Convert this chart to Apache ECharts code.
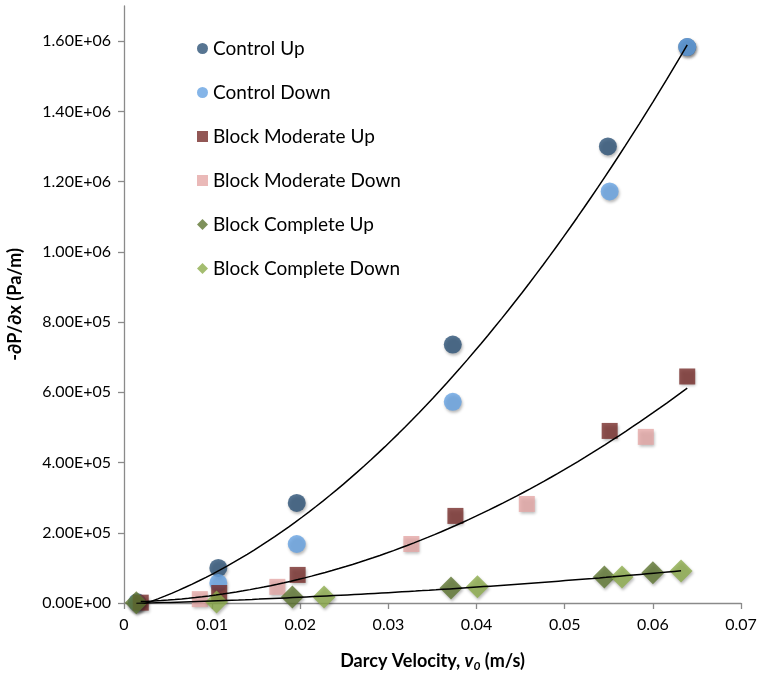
<!DOCTYPE html>
<html><head><meta charset="utf-8">
<script src="https://cdn.jsdelivr.net/npm/echarts@6/dist/echarts.min.js"></script>
<style>html,body{margin:0;padding:0;background:#fff}#c{width:759px;height:675px}</style>
</head><body><div id="c"></div>
<script>
// ---- data ----
const seriesNames = ['Control Up', 'Control Down', 'Block Moderate Up', 'Block Moderate Down', 'Block Complete Up', 'Block Complete Down'];
const controlUpX = [0.0015, 0.0107, 0.0196, 0.0373, 0.0549, 0.0639];
const controlUpY = [2000, 1.00e5, 2.85e5, 7.36e5, 1.30e6, 1.583e6];
const controlDownX = [0.0015, 0.0107, 0.0196, 0.0373, 0.0551, 0.0639];
const controlDownY = [1000, 5.7e4, 1.68e5, 5.73e5, 1.172e6, 1.583e6];
const modUpX = [0.0019, 0.0108, 0.0197, 0.0376, 0.0551, 0.0639];
const modUpY = [1000, 2.85e4, 8.0e4, 2.48e5, 4.90e5, 6.45e5];
const modDownX = [0.0086, 0.0174, 0.0326, 0.0457, 0.0592];
const modDownY = [1.1e4, 4.6e4, 1.68e5, 2.82e5, 4.73e5];
const compUpX = [0.0014, 0.0191, 0.0371, 0.0545, 0.0600];
const compUpY = [1000, 1.7e4, 4.3e4, 7.4e4, 8.6e4];
const compDownX = [0.0105, 0.0227, 0.0401, 0.0565, 0.0632];
const compDownY = [3000, 1.7e4, 4.6e4, 7.4e4, 9.1e4];
const yTickValues = [0, 2e5, 4e5, 6e5, 8e5, 1.0e6, 1.2e6, 1.4e6, 1.6e6];
const xTickValues = [0, 0.01, 0.02, 0.03, 0.04, 0.05, 0.06, 0.07];

const FONT = 'Lato, "Liberation Sans", sans-serif';
const zip = (xs, ys) => xs.map((x, i) => [x, ys[i]]);

// Excel-style polynomial (order 2) trendline: least squares fit of the combined Up+Down points
function quadFit(xs, ys) {
  let S = [0,0,0,0,0], T = [0,0,0];
  xs.forEach((x, i) => {
    const y = ys[i];
    for (let k = 0; k < 5; k++) S[k] += Math.pow(x, k);
    for (let k = 0; k < 3; k++) T[k] += y * Math.pow(x, k);
  });
  const A = [[S[0],S[1],S[2],T[0]],[S[1],S[2],S[3],T[1]],[S[2],S[3],S[4],T[2]]];
  for (let c = 0; c < 3; c++) {
    let p = c;
    for (let r = c+1; r < 3; r++) if (Math.abs(A[r][c]) > Math.abs(A[p][c])) p = r;
    [A[c], A[p]] = [A[p], A[c]];
    for (let r = 0; r < 3; r++) if (r !== c) {
      const f = A[r][c] / A[c][c];
      for (let k = c; k < 4; k++) A[r][k] -= f * A[c][k];
    }
  }
  return [A[0][3]/A[0][0], A[1][3]/A[1][1], A[2][3]/A[2][2]];
}
function trend(xs, ys) {
  const [a, b, c] = quadFit(xs, ys);
  const lo = Math.min(...xs), hi = Math.max(...xs), n = 80, pts = [];
  for (let i = 0; i <= n; i++) { const x = lo + (hi - lo) * i / n; pts.push([x, a + b*x + c*x*x]); }
  return pts;
}

function sci(v) {
  if (v === 0) return '0.00E+00';
  const e = Math.floor(Math.log10(Math.abs(v)) + 1e-9);
  const m = v / Math.pow(10, e);
  return m.toFixed(2) + 'E' + (e < 0 ? '-' : '+') + String(Math.abs(e)).padStart(2, '0');
}

const shadow = { shadowBlur: 3, shadowColor: 'rgba(0,0,0,0.35)', shadowOffsetX: 1, shadowOffsetY: 2 };
const colors = ['#2D5277', '#66A3E2', '#772D2B', '#E5A8A6', '#5E7631', '#8DAD4C'];
const symbols = ['circle', 'circle', 'rect', 'rect', 'diamond', 'diamond'];
const sizes = [18, 18, 16, 16, 23, 23];
const sets = [[controlUpX, controlUpY], [controlDownX, controlDownY], [modUpX, modUpY], [modDownX, modDownY], [compUpX, compUpY], [compDownX, compDownY]];

const series = sets.map((s, i) => ({
  name: seriesNames[i], type: 'scatter', symbol: symbols[i], symbolSize: sizes[i],
  data: zip(s[0], s[1]), itemStyle: Object.assign({ color: colors[i] }, shadow), z: 2
}));
const trendSets = [
  [controlUpX.concat(controlDownX), controlUpY.concat(controlDownY)],
  [modUpX.concat(modDownX), modUpY.concat(modDownY)],
  [compUpX.concat(compDownX), compUpY.concat(compDownY)]
];
trendSets.forEach(t => series.push({
  type: 'line', data: trend(t[0], t[1]), showSymbol: false, symbol: 'none', smooth: false,
  lineStyle: { color: '#000', width: 1.5 }, z: 5, silent: true, legendHoverLink: false
}));

const chart = echarts.init(document.getElementById('c'), null, { renderer: 'canvas' });
chart.setOption({
  animation: false,
  backgroundColor: '#fff',
  grid: { left: 124, right: 18, top: 6, bottom: 72, containLabel: false, outerBoundsMode: 'none' },
  legend: {
    data: seriesNames, orient: 'vertical', left: 192, top: 34,
    itemWidth: 11, itemHeight: 11, itemGap: 25,
    textStyle: { fontFamily: FONT, fontSize: 19, color: '#000', lineHeight: 19 }
  },
  xAxis: {
    type: 'value', min: 0, max: 0.07, interval: 0.01,
    name: 'Darcy Velocity, {i|v}{s|0} (m/s)', nameLocation: 'middle', nameGap: 47,
    nameTextStyle: {
      fontFamily: FONT, fontWeight: 'bold', fontSize: 18, color: '#000', lineHeight: 22,
      rich: {
        i: { fontFamily: FONT, fontWeight: 'bold', fontStyle: 'italic', fontSize: 18, color: '#000', lineHeight: 22 },
        s: { fontFamily: FONT, fontWeight: 'bold', fontStyle: 'italic', fontSize: 12, color: '#000', lineHeight: 14, verticalAlign: 'bottom', padding: [6, 0, 0, 0] }
      }
    },
    axisLine: { lineStyle: { color: '#8A8A8A', width: 1.3 } },
    axisTick: { show: true, inside: false, length: 6, lineStyle: { color: '#8A8A8A', width: 1.3 } },
    axisLabel: { fontFamily: FONT, fontSize: 16, color: '#000', margin: 14,
      formatter: v => String(Math.round(v * 100) / 100) },
    splitLine: { show: false }
  },
  yAxis: {
    type: 'value', min: 0, max: 1.7e6,
    name: '-∂P/∂x (Pa/m)', nameLocation: 'middle', nameGap: 100, nameRotate: 90,
    nameTextStyle: { fontFamily: FONT, fontWeight: 'bold', fontSize: 18, color: '#000' },
    axisLine: { show: true, lineStyle: { color: '#8A8A8A', width: 1.3 } },
    axisTick: { show: true, inside: false, length: 6, customValues: yTickValues, lineStyle: { color: '#8A8A8A', width: 1.3 } },
    axisLabel: { fontFamily: FONT, fontSize: 16, color: '#000', margin: 13, customValues: yTickValues, formatter: v => sci(v) },
    splitLine: { show: false }
  },
  series: series
});
</script></body></html>
